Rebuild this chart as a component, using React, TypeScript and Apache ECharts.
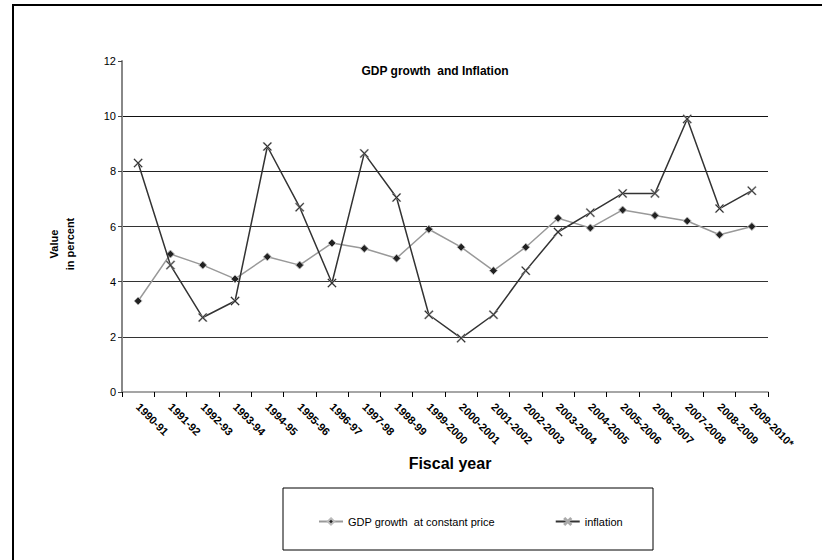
import React, { useEffect, useRef } from "react";
import * as echarts from "echarts";

const fiscalYears = [
  "1990-91", "1991-92", "1992-93", "1993-94", "1994-95", "1995-96", "1996-97",
  "1997-98", "1998-99", "1999-2000", "2000-2001", "2001-2002", "2002-2003",
  "2003-2004", "2004-2005", "2005-2006", "2006-2007", "2007-2008", "2008-2009",
  "2009-2010*",
];

const gdpGrowth = [
  3.3, 5.0, 4.6, 4.1, 4.9, 4.6, 5.4, 5.2, 4.85, 5.9,
  5.25, 4.4, 5.25, 6.3, 5.95, 6.6, 6.4, 6.2, 5.7, 6.0,
];

const inflation = [
  8.3, 4.6, 2.7, 3.3, 8.9, 6.7, 3.95, 8.65, 7.05, 2.8,
  1.95, 2.8, 4.4, 5.8, 6.5, 7.2, 7.2, 9.9, 6.65, 7.3,
];

const yTicks = { min: 0, max: 12, interval: 2 };

const FONT = "Arial, 'Liberation Sans', sans-serif";
const CROSS =
  "path://M1,0 L5,4 L9,0 L10,1 L6,5 L10,9 L9,10 L5,6 L1,10 L0,9 L4,5 L0,1 Z";

export default function App() {
  const ref = useRef<HTMLDivElement>(null);

  useEffect(() => {
    if (!ref.current) return;
    const chart = echarts.init(ref.current, null, { renderer: "svg" });
    chart.setOption({
      animation: false,
      backgroundColor: "#ffffff",
      grid: { left: 122, right: 54, top: 61, bottom: 168 },
      xAxis: {
        type: "category",
        data: fiscalYears,
        boundaryGap: true,
        axisLine: { lineStyle: { color: "#888", width: 1.5 } },
        axisTick: { show: true, length: 5, lineStyle: { color: "#000" } },
        axisLabel: {
          rotate: -45,
          interval: 0,
          margin: 13,
          color: "#000",
          fontSize: 11,
          fontWeight: "bold",
          fontFamily: FONT,
        },
        splitLine: { show: false },
      },
      yAxis: {
        type: "value",
        min: yTicks.min,
        max: yTicks.max,
        interval: yTicks.interval,
        axisLine: { show: true, lineStyle: { color: "#888", width: 2 } },
        axisTick: { show: true, length: 4, lineStyle: { color: "#444" } },
        axisLabel: { color: "#000", fontSize: 11, fontFamily: FONT, margin: 6 },
        splitLine: {
          show: true,
          lineStyle: {
            color: ["transparent", "#333", "#333", "#333", "#222", "#111", "transparent"],
            width: 1,
          },
        },
      },
      legend: {
        left: 313,
        top: 511,
        itemWidth: 24,
        itemHeight: 8,
        itemGap: 60,
        textStyle: { color: "#000", fontSize: 11, fontFamily: FONT },
        data: ["GDP growth  at constant price", "inflation"],
      },
      series: [
        {
          name: "GDP growth  at constant price",
          type: "line",
          data: gdpGrowth,
          symbol: "diamond",
          symbolSize: 8,
          lineStyle: { color: "#999", width: 1.5 },
          itemStyle: { color: "#222", borderColor: "#bbb", borderWidth: 1 },
          z: 2,
        },
        {
          name: "inflation",
          type: "line",
          data: inflation,
          symbol: CROSS,
          symbolSize: 9,
          lineStyle: { color: "#333", width: 1.5 },
          itemStyle: { color: "#222", borderColor: "#aaa", borderWidth: 0.6 },
          z: 3,
        },
      ],
      graphic: [
        {
          type: "rect",
          shape: { x: 13, y: 5, width: 900, height: 700 },
          style: { fill: "none", stroke: "#000", lineWidth: 2 },
          silent: true,
          z: -10,
        },
        {
          type: "rect",
          shape: { x: 283, y: 488, width: 370, height: 62 },
          style: { fill: "#fff", stroke: "#000", lineWidth: 1 },
          silent: true,
          z: -5,
        },
        {
          type: "text",
          x: 435,
          y: 71,
          style: {
            text: "GDP growth  and Inflation",
            font: `bold 12px ${FONT}`,
            fill: "#000",
            textAlign: "center",
            textVerticalAlign: "middle",
          },
        },
        {
          type: "text",
          x: 62,
          y: 244,
          rotation: Math.PI / 2,
          style: {
            text: "Value\nin percent",
            font: `bold 11px ${FONT}`,
            fill: "#000",
            textAlign: "center",
            textVerticalAlign: "middle",
            lineHeight: 16,
          },
        },
        {
          type: "text",
          x: 450,
          y: 463,
          style: {
            text: "Fiscal year",
            font: `bold 16px ${FONT}`,
            fill: "#000",
            textAlign: "center",
            textVerticalAlign: "middle",
          },
        },
      ],
    });
    return () => chart.dispose();
  }, []);

  return (
    <div
      ref={ref}
      style={{ position: "fixed", left: 0, top: 0, width: 822, height: 560 }}
    />
  );
}
